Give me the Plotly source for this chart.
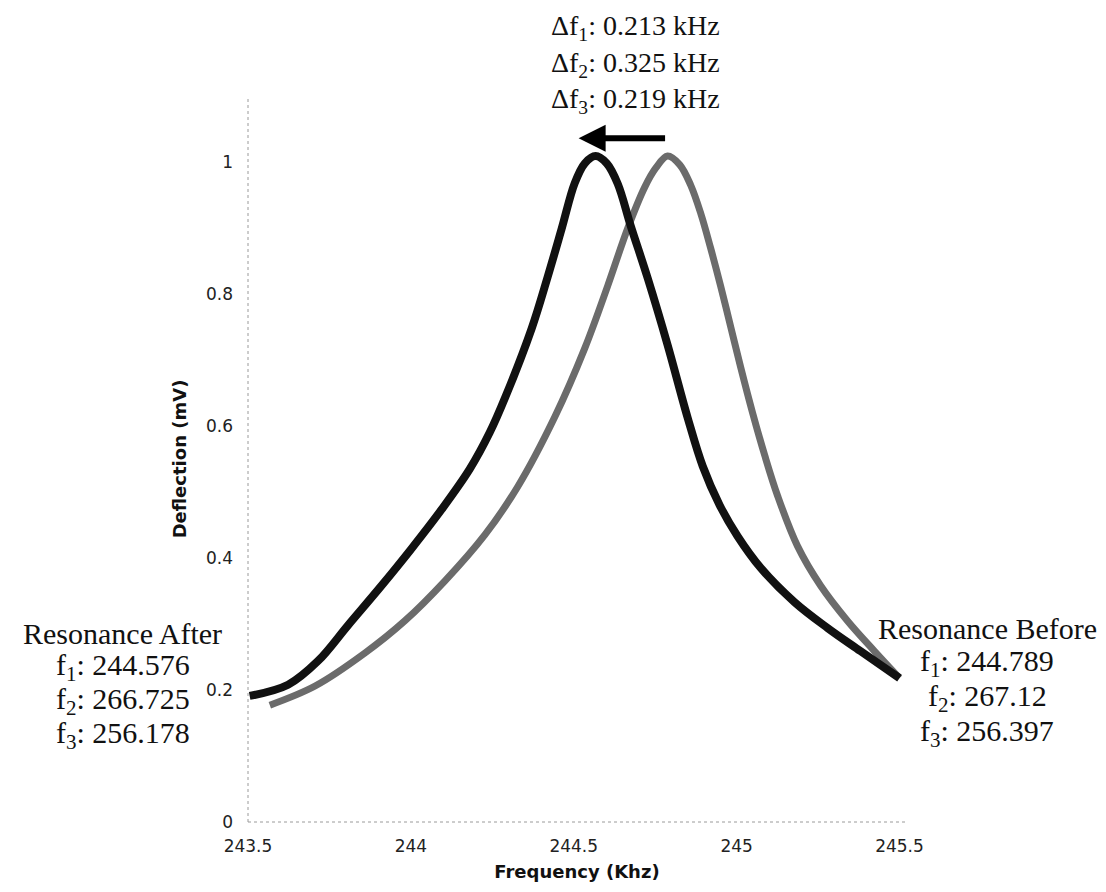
import plotly.graph_objects as go

# Resonance curves
after_freq = [243.505, 243.623, 243.715, 243.807, 243.908, 244.0, 244.095, 244.181, 244.242,
              244.291, 244.371, 244.420, 244.463, 244.503, 244.534, 244.567, 244.601, 244.635,
              244.675, 244.727, 244.788, 244.85, 244.896, 244.948, 245.003, 245.074, 245.178,
              245.279, 245.38, 245.5]
after_defl = [0.191, 0.208, 0.244, 0.298, 0.357, 0.413, 0.474, 0.535, 0.590,
              0.645, 0.748, 0.826, 0.899, 0.968, 0.998, 1.009, 0.998, 0.967,
              0.903, 0.824, 0.723, 0.612, 0.539, 0.480, 0.433, 0.385, 0.333,
              0.294, 0.259, 0.218]

before_freq = [243.567, 243.706, 243.859, 243.982, 244.104, 244.227, 244.328, 244.442, 244.534,
               244.604, 244.666, 244.718, 244.752, 244.788, 244.825, 244.859, 244.890, 244.920,
               244.951, 244.982, 245.012, 245.049, 245.086, 245.126, 245.187, 245.258, 245.340,
               245.423, 245.5]
before_defl = [0.177, 0.206, 0.256, 0.305, 0.365, 0.435, 0.508, 0.614, 0.718,
               0.812, 0.900, 0.962, 0.991, 1.009, 0.996, 0.965, 0.922, 0.870,
               0.812, 0.750, 0.690, 0.620, 0.556, 0.494, 0.418, 0.358, 0.305,
               0.259, 0.218]

x_ticks = [243.5, 244, 244.5, 245, 245.5]
x_tick_labels = ["243.5", "244", "244.5", "245", "245.5"]
y_ticks = [0, 0.2, 0.4, 0.6, 0.8, 1]
y_tick_labels = ["0", "0.2", "0.4", "0.6", "0.8", "1"]

delta_lines = ["Δf<sub>1</sub>: 0.213 kHz", "Δf<sub>2</sub>: 0.325 kHz", "Δf<sub>3</sub>: 0.219 kHz"]
after_lines = ["Resonance After", "f<sub>1</sub>: 244.576", "f<sub>2</sub>: 266.725", "f<sub>3</sub>: 256.178"]
before_lines = ["Resonance Before", "f<sub>1</sub>: 244.789", "f<sub>2</sub>: 267.12", "f<sub>3</sub>: 256.397"]

fig = go.Figure()
fig.add_trace(go.Scatter(x=before_freq, y=before_defl, mode="lines",
                         line=dict(color="#6b6b6b", width=7, shape="spline", smoothing=1.0),
                         name="Before", showlegend=False))
fig.add_trace(go.Scatter(x=after_freq, y=after_defl, mode="lines",
                         line=dict(color="#111111", width=8, shape="spline", smoothing=1.0),
                         name="After", showlegend=False))

serif = "Liberation Serif, Times New Roman, serif"
ann = []
for i, t in enumerate(delta_lines):
    ann.append(dict(text=t, xref="x", yref="paper", x=244.69, y=1.0 + (68 - 36 * i) / 726,
                    xanchor="center", yanchor="middle", showarrow=False,
                    font=dict(family=serif, size=28, color="#111")))
for i, t in enumerate(after_lines):
    ann.append(dict(text=t, xref="paper", yref="paper", x=(115 - 240) / 658,
                    y=(814 - (625 + 34 * i)) / 726, xanchor="center", yanchor="middle",
                    showarrow=False, font=dict(family=serif, size=30, color="#111")))
for i, t in enumerate(before_lines):
    ann.append(dict(text=t, xref="paper", yref="paper", x=(979 - 240) / 658,
                    y=(814 - (620 + 35 * i)) / 726, xanchor="center", yanchor="middle",
                    showarrow=False, font=dict(family=serif, size=30, color="#111")))
# shift arrow
ann.append(dict(x=244.515, y=1.036, ax=244.785, ay=1.036, xref="x", yref="y",
                axref="x", ayref="y", text="", showarrow=True, arrowhead=2,
                arrowsize=0.9, arrowwidth=6, arrowcolor="#000"))

fig.update_layout(
    width=1106, height=892,
    margin=dict(l=240, r=208, t=88, b=78),
    paper_bgcolor="white", plot_bgcolor="white",
    annotations=ann,
    shapes=[
        dict(type="line", xref="paper", yref="paper", x0=0, x1=1, y0=0, y1=0,
             line=dict(color="#9a9a9a", width=1, dash="dot")),
        dict(type="line", xref="paper", yref="paper", x0=0, x1=0, y0=0, y1=1,
             line=dict(color="#9a9a9a", width=1, dash="dot")),
    ],
    xaxis=dict(range=[243.5, 245.52], tickvals=x_ticks, ticktext=x_tick_labels,
               showgrid=False, zeroline=False, showline=False, ticks="",
               ticklabelstandoff=12,
               tickfont=dict(family="DejaVu Sans, Verdana, sans-serif", size=17, color="#222"),
               title=dict(text="<b>Frequency (Khz)</b>", standoff=10,
                          font=dict(family="DejaVu Sans, Verdana, sans-serif", size=18, color="#111"))),
    yaxis=dict(range=[0, 1.1], tickvals=y_ticks, ticktext=y_tick_labels,
               showgrid=False, zeroline=False, showline=False, ticks="",
               ticklabelstandoff=14,
               tickfont=dict(family="DejaVu Sans, Verdana, sans-serif", size=17, color="#222"),
               title=dict(text="<b>Deflection (mV)</b>", standoff=14,
                          font=dict(family="DejaVu Sans, Verdana, sans-serif", size=18, color="#111"))),
)

fig.write_html("out.html")
